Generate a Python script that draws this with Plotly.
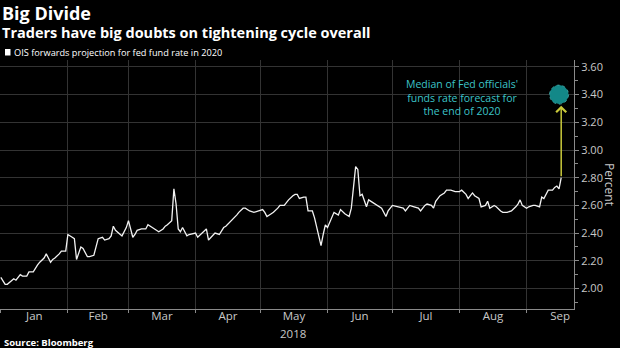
import plotly.graph_objects as go

# ---------------- data ----------------
dates = [
    "2018-01-01", "2018-01-03", "2018-01-04", "2018-01-06", "2018-01-07", "2018-01-08",
    "2018-01-10", "2018-01-11", "2018-01-13", "2018-01-14", "2018-01-16", "2018-01-18",
    "2018-01-19", "2018-01-21", "2018-01-22", "2018-01-23", "2018-01-24", "2018-01-25",
    "2018-01-26", "2018-01-28", "2018-01-29", "2018-01-31", "2018-02-01", "2018-02-03",
    "2018-02-04", "2018-02-05", "2018-02-07", "2018-02-08", "2018-02-10", "2018-02-11",
    "2018-02-13", "2018-02-15", "2018-02-17", "2018-02-18", "2018-02-20", "2018-02-21",
    "2018-02-22", "2018-02-23", "2018-02-25", "2018-02-26", "2018-02-28", "2018-03-01",
    "2018-03-03", "2018-03-04", "2018-03-05", "2018-03-07", "2018-03-09", "2018-03-10",
    "2018-03-12", "2018-03-14", "2018-03-15", "2018-03-17", "2018-03-18", "2018-03-19",
    "2018-03-21", "2018-03-22", "2018-03-23", "2018-03-24", "2018-03-25", "2018-03-26",
    "2018-03-28", "2018-03-29", "2018-03-31", "2018-04-01", "2018-04-02", "2018-04-04",
    "2018-04-06", "2018-04-07", "2018-04-09", "2018-04-10", "2018-04-12", "2018-04-14",
    "2018-04-15", "2018-04-17", "2018-04-18", "2018-04-20", "2018-04-21", "2018-04-23",
    "2018-04-24", "2018-04-26", "2018-04-28", "2018-04-30", "2018-05-02", "2018-05-03",
    "2018-05-04", "2018-05-06", "2018-05-07", "2018-05-09", "2018-05-10", "2018-05-12",
    "2018-05-13", "2018-05-14", "2018-05-16", "2018-05-17", "2018-05-18", "2018-05-19",
    "2018-05-21", "2018-05-22", "2018-05-23", "2018-05-25", "2018-05-26", "2018-05-27",
    "2018-05-28", "2018-05-29", "2018-05-30", "2018-05-31", "2018-06-01", "2018-06-02",
    "2018-06-04", "2018-06-06", "2018-06-07", "2018-06-09", "2018-06-10", "2018-06-11",
    "2018-06-12", "2018-06-14", "2018-06-15", "2018-06-16", "2018-06-17", "2018-06-19",
    "2018-06-20", "2018-06-22", "2018-06-24", "2018-06-25", "2018-06-26", "2018-06-28",
    "2018-06-29", "2018-07-01", "2018-07-03", "2018-07-04", "2018-07-06", "2018-07-07",
    "2018-07-09", "2018-07-11", "2018-07-13", "2018-07-14", "2018-07-16", "2018-07-17",
    "2018-07-19", "2018-07-20", "2018-07-21", "2018-07-23", "2018-07-25", "2018-07-26",
    "2018-07-28", "2018-07-30", "2018-08-01", "2018-08-02", "2018-08-04", "2018-08-05",
    "2018-08-07", "2018-08-08", "2018-08-10", "2018-08-11", "2018-08-13", "2018-08-14",
    "2018-08-15", "2018-08-17", "2018-08-18", "2018-08-20", "2018-08-21", "2018-08-23",
    "2018-08-25", "2018-08-27", "2018-08-28", "2018-08-29", "2018-08-30", "2018-09-01",
    "2018-09-02", "2018-09-04", "2018-09-05", "2018-09-07", "2018-09-08", "2018-09-09",
    "2018-09-10", "2018-09-11", "2018-09-13", "2018-09-14", "2018-09-15", "2018-09-16",
    "2018-09-17",
]
values = [
    2.08, 2.03, 2.03, 2.06, 2.07, 2.06,
    2.10, 2.09, 2.09, 2.12, 2.12, 2.17,
    2.19, 2.22, 2.25, 2.22, 2.19, 2.21,
    2.22, 2.25, 2.27, 2.27, 2.39, 2.37,
    2.36, 2.21, 2.30, 2.29, 2.23, 2.23,
    2.24, 2.36, 2.37, 2.35, 2.36, 2.38,
    2.45, 2.42, 2.39, 2.38, 2.44, 2.49,
    2.37, 2.39, 2.42, 2.43, 2.43, 2.46,
    2.44, 2.42, 2.41, 2.43, 2.45, 2.46,
    2.49, 2.72, 2.61, 2.43, 2.41, 2.44,
    2.38, 2.39, 2.40, 2.40, 2.37, 2.40,
    2.43, 2.35, 2.38, 2.40, 2.39, 2.44,
    2.45, 2.48, 2.50, 2.53, 2.55, 2.58,
    2.58, 2.56, 2.55, 2.56, 2.57, 2.55,
    2.52, 2.54, 2.55, 2.58, 2.60, 2.60,
    2.62, 2.64, 2.67, 2.68, 2.68, 2.65,
    2.66, 2.66, 2.56, 2.56, 2.51, 2.45,
    2.38, 2.31, 2.39, 2.46, 2.44, 2.48,
    2.55, 2.53, 2.57, 2.54, 2.53, 2.52,
    2.58, 2.88, 2.86, 2.67, 2.68, 2.59,
    2.64, 2.62, 2.60, 2.59, 2.58, 2.52,
    2.56, 2.60, 2.59, 2.59, 2.58, 2.56,
    2.60, 2.59, 2.58, 2.56, 2.60, 2.61,
    2.60, 2.58, 2.63, 2.67, 2.69, 2.71,
    2.71, 2.70, 2.70, 2.71, 2.68, 2.65,
    2.69, 2.67, 2.65, 2.59, 2.60, 2.63,
    2.58, 2.60, 2.59, 2.56, 2.55, 2.55,
    2.56, 2.59, 2.61, 2.64, 2.60, 2.58,
    2.59, 2.60, 2.60, 2.59, 2.66, 2.65,
    2.68, 2.71, 2.71, 2.73, 2.74, 2.72,
    2.80,
]

target_date = "2018-09-16"
target_value = 3.40
arrow_date = "2018-09-17"
arrow_from = 2.80
arrow_to = 3.32

y_ticks = [2.0, 2.2, 2.4, 2.6, 2.8, 3.0, 3.2, 3.4, 3.6]
y_labels = ["2.00", "2.20", "2.40", "2.60", "2.80", "3.00", "3.20", "3.40", "3.60"]

title = "Big Divide"
subtitle = "Traders have big doubts on tightening cycle overall"
legend_text = "OIS forwards projection for fed fund rate in 2020"
note_text = "Median of Fed officials'<br>funds rate forecast for<br>the end of 2020"
source_text = "Source: Bloomberg"
year_label = "2018"
year_label_date = "2018-05-16"

# ---------------- layout helpers ----------------
W, H = 620, 348
ML, MR, MT, MB = 0, 46, 60, 39
PW = W - ML - MR
PH = H - MT - MB


def px(x):
    return (x - ML) / PW


def py(y):
    return (H - MB - y) / PH


FONT = "Open Sans"
GRID = "#333333"
AXIS = "#8a8a8a"
TICKTXT = "#c8c8c8"
TEAL_TXT = "#3cc4c8"
YELLOW = "#c8c83a"

fig = go.Figure()
fig.add_trace(go.Scatter(
    x=dates, y=values, mode="lines",
    line=dict(color="#f2f2f2", width=1.3),
    hoverinfo="skip", showlegend=False,
))

fig.update_layout(
    width=W, height=H,
    margin=dict(l=ML, r=MR, t=MT, b=MB, pad=0),
    paper_bgcolor="black", plot_bgcolor="black",
    font=dict(family=FONT, color=TICKTXT, size=11),
    showlegend=False,
    xaxis=dict(
        type="date",
        range=["2017-12-31 15:00", "2018-09-22 22:00"],
        tick0="2018-01-01", dtick="M1",
        ticklabelmode="period", tickformat="%b",
        showgrid=True, gridcolor=GRID, gridwidth=1,
        ticks="outside", ticklen=3, tickcolor=AXIS,
        ticklabelstandoff=-7,
        showline=True, linecolor=AXIS, linewidth=1,
        tickfont=dict(size=11.5, color=TICKTXT),
        zeroline=False, fixedrange=True,
    ),
    yaxis=dict(
        side="right",
        range=[1.852, 3.65],
        tickmode="array", tickvals=y_ticks, ticktext=y_labels,
        ticks="outside", ticklen=4, tickcolor=AXIS,
        minor=dict(tick0=2.0, dtick=0.1, ticks="outside", ticklen=3,
                   tickcolor=AXIS, showgrid=False),
        showgrid=True, gridcolor=GRID, gridwidth=1,
        showline=True, linecolor=AXIS, linewidth=1,
        tickfont=dict(size=11, color=TICKTXT),
        zeroline=False, fixedrange=True,
    ),
)

# target marker (circle) anchored on data
fig.add_shape(
    type="circle", xref="x", yref="y",
    xsizemode="pixel", ysizemode="pixel",
    xanchor=target_date, yanchor=target_value,
    x0=-9.5, x1=9.5, y0=-9.5, y1=9.5,
    fillcolor="#138888",
    line=dict(color="#48b4b4", width=0.8, dash="dot"),
    layer="above",
)

# yellow arrow from last value to target
fig.add_annotation(
    x=arrow_date, y=arrow_to, ax=arrow_date, ay=arrow_from,
    xref="x", yref="y", axref="x", ayref="y",
    text="", showarrow=True, arrowhead=4, arrowsize=1.3,
    arrowwidth=1.5, arrowcolor=YELLOW, standoff=0, startstandoff=0,
)

# title + subtitle as one text block
fig.add_annotation(
    text=("<b><span style='font-size:18px'>" + title + "</span><br>"
          "<span style='font-size:14.5px'>" + subtitle + "</span></b>"),
    x=px(1), y=py(-0.5), xref="paper", yref="paper",
    xanchor="left", yanchor="top", align="left", showarrow=False,
    borderpad=0,
    font=dict(family=FONT, size=13.5, color="white"),
)

annos = [
    dict(text=legend_text, x=px(12), y=py(52), size=9.2, color="white"),
    dict(text="<b>" + source_text + "</b>", x=px(2), y=py(342), size=9.5, color="white"),
]
for a in annos:
    fig.add_annotation(
        text=a["text"], x=a["x"], y=a["y"], xref="paper", yref="paper",
        xanchor="left", yanchor="middle", showarrow=False,
        font=dict(family=FONT, size=a["size"], color=a["color"]),
    )

# legend square
fig.add_shape(type="rect", xref="paper", yref="paper",
              x0=px(5), x1=px(10.5), y0=py(55.5), y1=py(49),
              fillcolor="white", line=dict(width=0))

# note text
fig.add_annotation(
    text=note_text, x=px(462), y=py(97), xref="paper", yref="paper",
    xanchor="center", yanchor="middle", align="center", showarrow=False,
    font=dict(family=FONT, size=10.5, color=TEAL_TXT),
)

# year label under May
fig.add_annotation(
    text=year_label, x=year_label_date, y=py(333), xref="x", yref="paper",
    xanchor="center", yanchor="middle", showarrow=False,
    font=dict(family=FONT, size=11.5, color=TICKTXT),
)

# y-axis title, rotated to read top-down
fig.add_annotation(
    text="Percent", x=px(610), y=py(184), xref="paper", yref="paper",
    xanchor="center", yanchor="middle", textangle=90, showarrow=False,
    font=dict(family=FONT, size=12, color=TICKTXT),
)

fig.write_html("out.html")
